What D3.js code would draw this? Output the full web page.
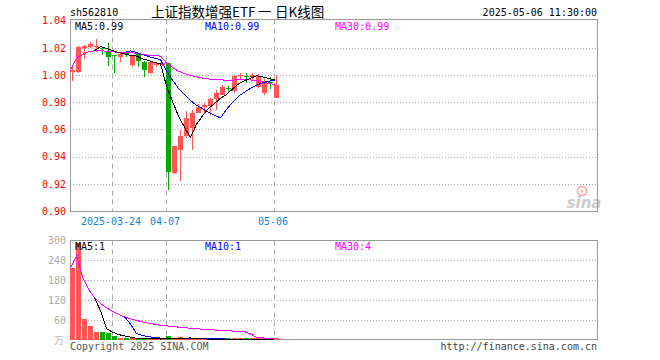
<!DOCTYPE html>
<html>
<head>
<meta charset="utf-8">
<title>562810 日K线图</title>
<script src="https://cdn.jsdelivr.net/npm/d3@7"></script>
<style>
html,body{margin:0;padding:0;background:#fff;}
svg{display:block;}
text{font-family:"DejaVu Sans Mono",monospace;font-size:10px;}
</style>
</head>
<body>
<script>
var dates=["2025-03-13","2025-03-14","2025-03-17","2025-03-18","2025-03-19","2025-03-20","2025-03-21","2025-03-24","2025-03-25","2025-03-26",
	"2025-03-27","2025-03-28","2025-03-31","2025-04-01","2025-04-02","2025-04-03","2025-04-07","2025-04-08","2025-04-09","2025-04-10",
	"2025-04-11","2025-04-14","2025-04-15","2025-04-16","2025-04-17","2025-04-18","2025-04-21","2025-04-22","2025-04-23","2025-04-24",
	"2025-04-25","2025-04-28","2025-04-29","2025-04-30","2025-05-06"];
var open=[1.0020,1.0024,1.0196,1.0207,1.0205,1.0195,1.0178,1.0149,1.0134,1.0160,
	1.0075,1.0154,1.0093,1.0015,1.0070,1.0070,1.0086,0.9280,0.9445,0.9548,
	0.9610,0.9724,0.9763,0.9773,0.9822,0.9853,0.9905,0.9885,0.9995,0.9990,
	0.9988,0.9914,0.9866,0.9945,0.9829];
var high=[1.0056,1.0210,1.0222,1.0240,1.0262,1.0203,1.0232,1.0149,1.0160,1.0165,
	1.0146,1.0159,1.0100,1.0098,1.0098,1.0098,1.0090,0.9480,0.9597,0.9736,
	0.9744,0.9790,0.9797,0.9829,0.9890,0.9927,0.9920,1.0000,1.0017,1.0017,
	1.0012,1.0005,0.9970,0.9983,1.0000];
var low=[0.9958,1.0015,1.0120,1.0200,1.0166,1.0149,1.0068,1.0012,1.0093,1.0130,
	1.0056,1.0060,0.9988,1.0005,1.0062,1.0065,0.9152,0.9270,0.9218,0.9540,
	0.9445,0.9720,0.9720,0.9707,0.9744,0.9850,0.9866,0.9870,0.9968,0.9939,
	0.9966,0.9905,0.9850,0.9900,0.9829];
var close=[1.0037,1.0207,1.0210,1.0230,1.0210,1.0190,1.0134,1.0141,1.0154,1.0155,
	1.0141,1.0105,1.0037,1.0095,1.0088,1.0090,0.9284,0.9475,0.9548,0.9683,
	0.9719,0.9763,0.9780,0.9824,0.9866,0.9910,0.9897,0.9995,1.0000,0.9983,
	1.0000,0.9995,0.9958,0.9940,0.9927];
var volume=[216,290,62,41,23,23,20,11,5,2,
	4,4,4,3,2,2,11,4,9,3,
	3,2,2,2,2,1,1,1,1,2,
	3,1,1,1,1];
var ma5=[null,null,null,null,1.0179,1.0209,1.0195,1.0181,1.0166,1.0155,
	1.0145,1.0139,1.0118,1.0107,1.0093,1.0083,0.9919,0.9806,0.9697,0.9616,
	0.9542,0.9638,0.9699,0.9754,0.9790,0.9829,0.9855,0.9898,0.9934,0.9957,
	0.9975,0.9995,0.9987,0.9975,0.9964];
var ma10=[null,null,null,null,null,null,null,null,null,1.0167,
	1.0177,1.0167,1.0150,1.0136,1.0124,1.0114,1.0029,0.9962,0.9902,0.9855,
	0.9812,0.9778,0.9753,0.9725,0.9703,0.9685,0.9747,0.9799,0.9844,0.9874,
	0.9902,0.9925,0.9943,0.9954,0.9961];
var ma30=[1.0037,1.0122,1.0151,1.0171,1.0179,1.0181,1.0174,1.0170,1.0168,1.0167,
	1.0164,1.0160,1.0150,1.0146,1.0142,1.0139,1.0089,1.0055,1.0028,1.0011,
	0.9997,0.9986,0.9977,0.9971,0.9967,0.9964,0.9962,0.9963,0.9964,0.9965,
	0.9964,0.9957,0.9948,0.9939,0.9929];
var vma5=[null,null,null,null,126.4,87.8,33.8,23.6,16.4,12.2,
	8.4,5.2,3.8,3.4,3.4,3.0,4.4,4.4,5.6,5.8,
	6.0,4.2,3.8,2.4,2.2,1.8,1.6,1.4,1.2,1.2,
	1.6,1.6,1.6,1.6,1.4];
var vma10=[null,null,null,null,null,null,null,null,null,69.3,
	48.1,19.5,13.7,9.9,7.8,5.7,4.8,4.1,4.5,4.6,
	4.5,4.3,4.1,4.0,4.0,3.9,2.9,2.6,1.8,1.7,
	1.7,1.6,1.5,1.4,1.3];
var vma30=[216,253,189.3,152.3,126.4,109.2,96.4,85.8,76.8,69.3,
	63.4,58.4,54.2,50.6,47.3,44.5,42.5,40.4,38.7,37.0,
	35.3,33.8,32.4,31.2,30.0,28.9,27.9,26.9,26.0,25.2,
	18.1,8.5,6.4,5.1,4.4];
var priceTicks=[0.90,0.92,0.94,0.96,0.98,1.00,1.02,1.04];
var volTicks=[60,120,180,240,300];
var tickDates=["2025-03-24","2025-04-07","2025-05-06"];
var tickLabels=["2025-03-24","04-07","05-06"];

var RED="#ff5555",GREEN="#00aa00";

var svg=d3.select("body")
	.append("svg")
	.attr("width",660)
	.attr("height",360);

var x=d3.scaleLinear().domain([0,35]).range([70,280]);
var y=d3.scaleLinear().domain([0.90,1.04]).range([211,20.6]);
var yv=d3.scaleLinear().domain([0,300]).range([340,240]);
var idx=d3.range(dates.length);
var tickIdx=tickDates.map(function(d){return dates.indexOf(d);});

// header
svg.append("text").attr("x",70).attr("y",16).text("sh562810");
var title=svg.append("text").attr("y",17)
	.style("font-family","'Noto Sans CJK SC',sans-serif").style("font-size","13.5px");
title.append("tspan").attr("x",151).text("上证指数增强ETF");
title.append("tspan").attr("x",258).text("一");
title.append("tspan").attr("x",275).text("日K线图");
svg.append("text").attr("x",597).attr("y",16).attr("text-anchor","end").text("2025-05-06 11:30:00");

// grids
svg.append("g")
	.attr("transform","translate(70,0)")
	.call(d3.axisLeft(y).tickValues(priceTicks.slice(1,-1)).tickSize(-527).tickFormat(""))
	.call(function(g){g.select(".domain").remove();})
	.selectAll("line").attr("stroke","#aaa").attr("stroke-dasharray","1,2").attr("shape-rendering","crispEdges");
svg.append("g")
	.attr("transform","translate(70,0)")
	.call(d3.axisLeft(yv).tickValues(volTicks.slice(0,-1)).tickSize(-527).tickFormat(""))
	.call(function(g){g.select(".domain").remove();})
	.selectAll("line").attr("stroke","#aaa").attr("stroke-dasharray","1,2").attr("shape-rendering","crispEdges");

[[19.5,211],[240.5,339]].forEach(function(r){
	svg.append("g").selectAll("line")
	.data(tickIdx)
	.enter()
	.append("line")
	.attr("x1",function(d){return x(d)+0.5;})
	.attr("x2",function(d){return x(d)+0.5;})
	.attr("y1",r[0])
	.attr("y2",r[1])
	.attr("stroke","#aaa")
	.attr("stroke-dasharray","5,4");
});

// frames
svg.append("rect").attr("x",70.5).attr("y",19.5).attr("width",527).attr("height",192)
	.attr("fill","none").attr("stroke","#999");
svg.append("rect").attr("x",70.5).attr("y",240.5).attr("width",527).attr("height",99)
	.attr("fill","none").attr("stroke","#999");

// axes labels
svg.append("g")
	.attr("transform","translate(70,0)")
	.call(d3.axisLeft(y).tickValues(priceTicks).tickFormat(d3.format(".2f")).tickSize(0).tickPadding(4))
	.call(function(g){g.select(".domain").remove();})
	.selectAll("text").attr("fill","#f00").style("font-family","'DejaVu Sans Mono',monospace").style("font-size","10px");
svg.append("g")
	.attr("transform","translate(-1.5,211)")
	.call(d3.axisBottom(x).tickValues(tickIdx).tickFormat(function(d,i){return tickLabels[i];}).tickSize(0).tickPadding(7))
	.call(function(g){g.select(".domain").remove();})
	.selectAll("text").attr("fill","#0a85d9").style("font-family","'DejaVu Sans Mono',monospace").style("font-size","10px");
svg.append("g")
	.attr("transform","translate(70,0)")
	.call(d3.axisLeft(yv).tickValues(volTicks).tickSize(0).tickPadding(4))
	.call(function(g){g.select(".domain").remove();})
	.selectAll("text").attr("fill","#aaa").style("font-family","'DejaVu Sans Mono',monospace").style("font-size","10px");
svg.append("text").attr("x",64).attr("y",344).attr("text-anchor","end")
	.style("font-family","'Noto Sans CJK SC',sans-serif").style("font-size","10px").attr("fill","#bbb").text("万");

// watermark
var logo=svg.append("g").attr("opacity",0.5);
logo.append("circle").attr("cx",582).attr("cy",191).attr("r",4.5).attr("fill","none").attr("stroke","#f07070").attr("stroke-width",2);
logo.append("circle").attr("cx",582).attr("cy",191).attr("r",1.5).attr("fill","#f07070");
logo.append("text").attr("x",584).attr("y",208).attr("text-anchor","middle")
	.style("font-family","'DejaVu Sans',sans-serif").style("font-size","15px").style("font-style","italic").style("font-weight","bold")
	.attr("fill","#999").text("sina");

// candles
var candles=svg.append("g").selectAll("g")
	.data(idx)
	.enter()
	.append("g")
	.attr("fill",function(i){return close[i]>=open[i]?RED:GREEN;});
candles.append("rect")
	.attr("x",function(i){return Math.round(x(i))+2;})
	.attr("width",1)
	.attr("y",function(i){return Math.round(y(high[i]));})
	.attr("height",function(i){return Math.max(1,Math.round(y(low[i]))-Math.round(y(high[i])));});
candles.append("rect")
	.attr("x",function(i){return Math.round(x(i));})
	.attr("width",5)
	.attr("y",function(i){return Math.round(y(Math.max(open[i],close[i])));})
	.attr("height",function(i){return Math.max(1,Math.round(y(Math.min(open[i],close[i])))-Math.round(y(Math.max(open[i],close[i]))));});

// volume bars
svg.append("g").selectAll("rect")
	.data(idx)
	.enter()
	.append("rect")
	.attr("x",function(i){return Math.round(x(i));})
	.attr("width",5)
	.attr("y",function(i){return Math.min(338,Math.round(yv(volume[i])));})
	.attr("height",function(i){return 340-Math.min(338,Math.round(yv(volume[i])));})
	.attr("fill",function(i){return close[i]>=open[i]?RED:GREEN;});

// moving averages
function drawLine(arr,scale,color){
	var line=d3.line()
	.defined(function(i){return arr[i]!=null;})
	.x(function(i){return x(i)+0.5;})
	.y(function(i){return scale(arr[i]);});
	svg.append("path")
	.datum(idx)
	.attr("d",line)
	.attr("fill","none")
	.attr("stroke",color)
	.attr("stroke-width",1)
	.attr("shape-rendering","crispEdges");
}
drawLine(ma30,y,"#ff00ff");
drawLine(ma10,y,"#0000ff");
drawLine(ma5,y,"#000");
drawLine(vma30,yv,"#ff00ff");
drawLine(vma10,yv,"#0000ff");
drawLine(vma5,yv,"#000");

// legends
svg.append("text").attr("x",75).attr("y",30).attr("fill","#000").text("MA5:0.99");
svg.append("text").attr("x",205).attr("y",30).attr("fill","#0000ff").text("MA10:0.99");
svg.append("text").attr("x",335).attr("y",30).attr("fill","#ff00ff").text("MA30:0.99");
svg.append("text").attr("x",75).attr("y",250).attr("fill","#000").text("MA5:1");
svg.append("text").attr("x",205).attr("y",250).attr("fill","#0000ff").text("MA10:1");
svg.append("text").attr("x",335).attr("y",250).attr("fill","#ff00ff").text("MA30:4");

// footer
svg.append("text").attr("x",70).attr("y",350).attr("fill","#555").text("Copyright 2025 SINA.COM");
svg.append("text").attr("x",597).attr("y",350).attr("text-anchor","end").attr("fill","#444").text("http://finance.sina.com.cn");
</script>
</body>
</html>
